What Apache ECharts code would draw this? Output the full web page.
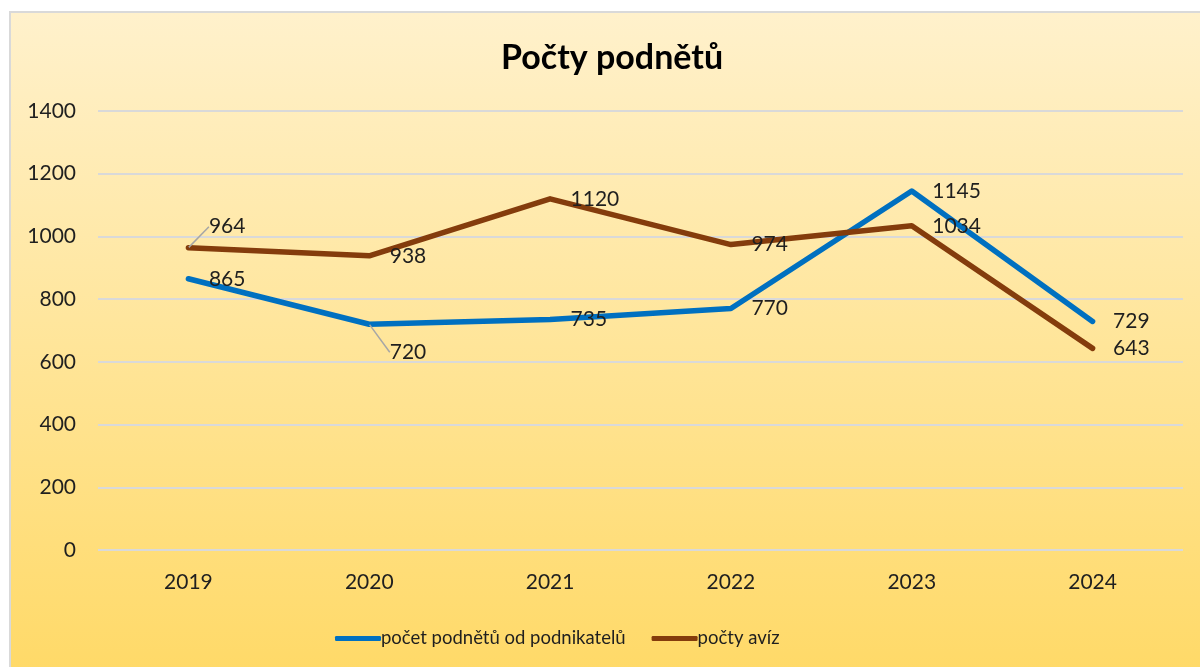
<!DOCTYPE html>
<html>
<head>
<meta charset="utf-8">
<script src="https://cdn.jsdelivr.net/npm/echarts@6/dist/echarts.min.js"></script>
<style>
  html, body { margin: 0; padding: 0; background: #fff; }
  #chart { width: 1200px; height: 667px; }
</style>
</head>
<body>
<div id="chart"></div>
<script>
// data
var years = ['2019', '2020', '2021', '2022', '2023', '2024'];
var podnetyPodnikatelu = [865, 720, 735, 770, 1145, 729];
var poctyAviz = [964, 938, 1120, 974, 1034, 643];
var seriesNames = ['počet podnětů od podnikatelů', 'počty avíz'];

var FONT = 'Lato';
var textColor = '#1f1f1f';

// labels that Excel pushed off the point, with a leader line
var movedBlue = { 1: 28 };
var movedBrown = { 0: -21 };

function withLeaders(values, moved) {
    return values.map(function (v, i) {
        var item = { value: v };
        if (moved[i]) {
            item.labelLine = { show: true, lineStyle: { color: '#a6a6a6', width: 1.5 } };
        }
        return item;
    });
}

function makeSeries(name, values, moved, color) {
    return {
        name: name,
        type: 'line',
        data: withLeaders(values, moved),
        symbol: 'circle',
        symbolSize: 1,
        itemStyle: { color: color },
        lineStyle: { width: 5.5, color: color, cap: 'round', join: 'round' },
        label: {
            show: true,
            position: 'right',
            distance: 20,
            fontFamily: FONT,
            fontSize: 21,
            color: textColor
        },
        labelLayout: function (params) {
            if (moved[params.dataIndex]) {
                return { dy: moved[params.dataIndex] };
            }
            return {};
        }
    };
}

var myChart = echarts.init(document.getElementById('chart'));
var option = {
    animation: false,
    textStyle: { fontFamily: FONT },
    graphic: [{
        type: 'rect',
        left: 9,
        top: 11,
        z: -10,
        shape: { width: 1200, height: 670 },
        style: {
            fill: new echarts.graphic.LinearGradient(0, 0, 0, 1, [
                { offset: 0, color: '#fff1cc' },
                { offset: 1, color: '#ffd966' }
            ]),
            stroke: '#d9d9d9',
            lineWidth: 2
        }
    }],
    title: {
        text: 'Počty podnětů',
        left: 496,
        top: 36,
        textStyle: { fontFamily: FONT, fontSize: 34, fontWeight: 'bold', color: '#000' }
    },
    legend: {
        left: 330,
        top: 624,
        itemWidth: 46,
        itemHeight: 5,
        itemGap: 26,
        icon: 'roundRect',
        data: seriesNames,
        textStyle: { fontFamily: FONT, fontSize: 18.5, color: textColor, padding: [0, 0, 0, -5] }
    },
    grid: { left: 98, right: 17, top: 111, bottom: 117 },
    xAxis: {
        type: 'category',
        data: years,
        axisLine: { show: false },
        axisTick: { show: false },
        axisLabel: { margin: 22, fontFamily: FONT, fontSize: 21, color: textColor }
    },
    yAxis: {
        type: 'value',
        min: 0,
        max: 1400,
        interval: 200,
        axisLine: { show: false },
        axisTick: { show: false },
        axisLabel: {
            margin: 22,
            fontFamily: FONT,
            fontSize: 21,
            color: textColor,
            formatter: function (v) { return String(v); }
        },
        splitLine: { lineStyle: { color: '#d9d9d9', width: 2 } }
    },
    series: [
        makeSeries(seriesNames[0], podnetyPodnikatelu, movedBlue, '#0070c0'),
        makeSeries(seriesNames[1], poctyAviz, movedBrown, '#843c0c')
    ]
};
myChart.setOption(option);
</script>
</body>
</html>
